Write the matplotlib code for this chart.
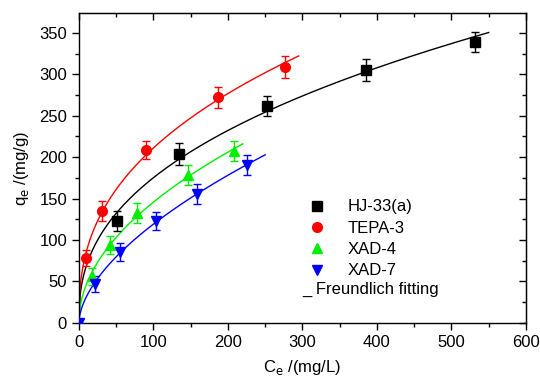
import numpy as np
import matplotlib as mpl
import matplotlib.pyplot as plt

mpl.rcParams['font.family'] = 'Liberation Sans'
mpl.rcParams['font.size'] = 12

# adsorption isotherm data
names = ["HJ-33(a)", "TEPA-3", "XAD-4", "XAD-7"]
hj_c = [51, 135, 252, 385, 531]
hj_q = [123, 204, 262, 305, 339]
hj_err = [12, 13, 12, 13, 12]
tepa_c = [10, 31, 90, 187, 276]
tepa_q = [78, 135, 209, 272, 309]
tepa_err = [10, 12, 11, 13, 13]
xad4_c = [17, 42, 78, 146, 208]
xad4_q = [56, 94, 133, 178, 207]
xad4_err = [10, 11, 12, 12, 12]
xad7_c = [0, 22, 55, 103, 158, 225]
xad7_q = [0, 47, 85, 123, 155, 190]
xad7_err = [0, 10, 11, 11, 12, 12]

# range over which each Freundlich curve is drawn
fit_end = [550, 295, 220, 250]

series = [(hj_c, hj_q, hj_err), (tepa_c, tepa_q, tepa_err),
          (xad4_c, xad4_q, xad4_err), (xad7_c, xad7_q, xad7_err)]
colors = ["black", "#ff0000", "#00ee00", "#0000ff"]
markers = ["s", "o", "^", "v"]


def freundlich_fit(c, q):
    # least squares on q = K * C^b, scan b and solve K exactly
    best = None
    for b in np.linspace(0.1, 1.0, 901):
        cb = c ** b
        k = np.sum(q * cb) / np.sum(cb * cb)
        sse = np.sum((q - k * cb) ** 2)
        if best is None or sse < best[0]:
            best = (sse, k, b)
    return best[1], best[2]


fig, ax = plt.subplots(figsize=(5.4, 3.82), dpi=100)
fig.subplots_adjust(left=0.146, right=0.974, top=0.966, bottom=0.155)

handles = []
for (c, q, e), col, m, name, xend in zip(series, colors, markers, names, fit_end):
    c = np.array(c, float)
    q = np.array(q, float)
    h = ax.errorbar(c, q, yerr=e, fmt=m, color=col, ms=7, capsize=3,
                    elinewidth=1, capthick=1, label=name, zorder=3)
    handles.append(h)
    k, b = freundlich_fit(c, q)
    xs = np.linspace(0, xend, 300)
    ax.plot(xs, k * xs ** b, color=col, lw=1, zorder=2)

ax.set_xlim(0, 600)
ax.set_ylim(0, 374)
ax.set_xticks(np.arange(0, 601, 100))
ax.set_yticks(np.arange(0, 351, 50))
ax.set_xticks(np.arange(0, 601, 50), minor=True)
ax.set_yticks(np.arange(0, 375, 25), minor=True)
ax.tick_params(which='both', direction='out', width=1, labelsize=12)
ax.tick_params(which='major', length=5)
ax.tick_params(which='minor', length=3)

# mirrored ticks on top and right
ax_t = ax.secondary_xaxis('top')
ax_t.set_xticks(np.arange(0, 601, 100))
ax_t.set_xticks(np.arange(0, 601, 50), minor=True)
ax_t.tick_params(which='both', direction='in', labeltop=False, width=1)
ax_t.tick_params(which='major', length=5)
ax_t.tick_params(which='minor', length=3)
ax_r = ax.secondary_yaxis('right')
ax_r.set_yticks(np.arange(0, 351, 50))
ax_r.set_yticks(np.arange(0, 375, 25), minor=True)
ax_r.tick_params(which='both', direction='in', labelright=False, width=1)
ax_r.tick_params(which='major', length=5)
ax_r.tick_params(which='minor', length=3)

for sp in ax.spines.values():
    sp.set_linewidth(1)

ax.set_xlabel(r"C$_{\mathrm{e}}$ /(mg/L)", fontsize=12, labelpad=6)
ax.set_ylabel(r"q$_{\mathrm{e}}$ /(mg/g)", fontsize=12, labelpad=6)

leg = ax.legend(handles=[h[0] for h in handles], labels=names,
                loc='upper left', bbox_to_anchor=(0.5, 0.42), frameon=False,
                fontsize=12, handlelength=1.0, handletextpad=1.3,
                labelspacing=0.38, borderaxespad=0)
ax.text(0.500, 0.108, "_ Freundlich fitting", transform=ax.transAxes,
        fontsize=12, va='center', ha='left')

fig.savefig("out.png", dpi=100)
